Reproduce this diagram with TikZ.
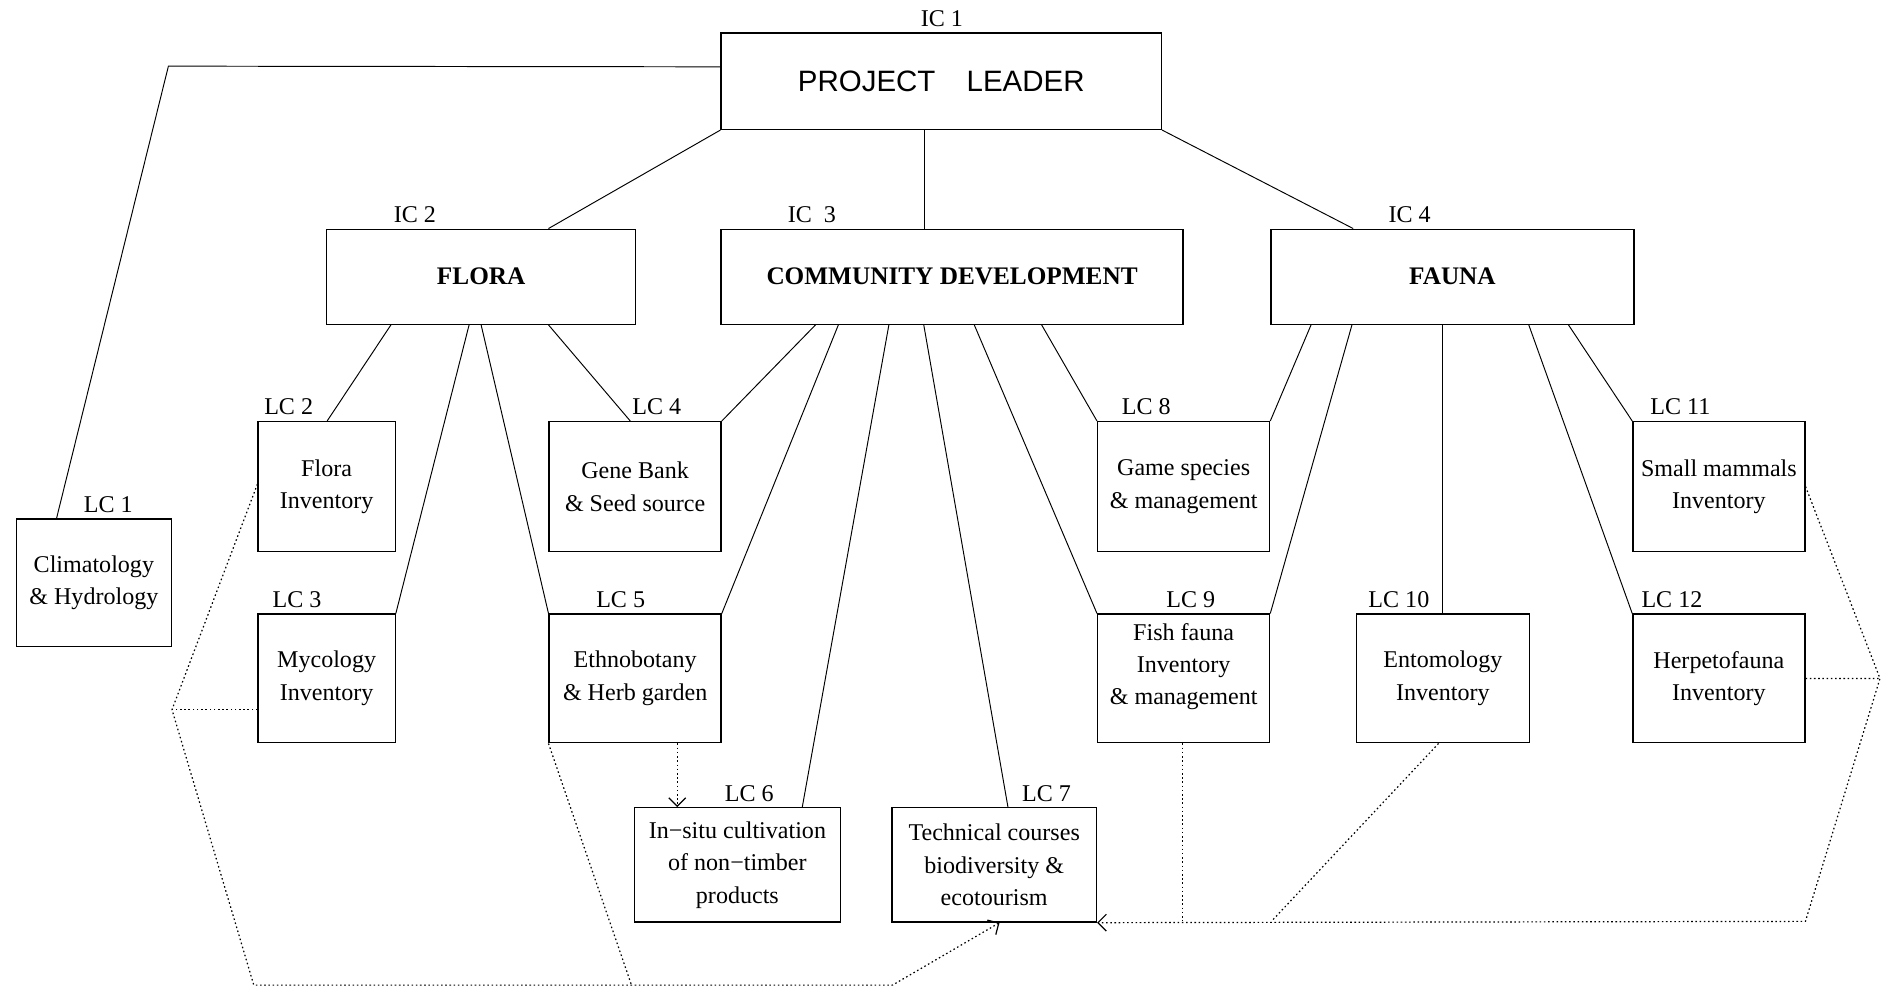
\documentclass[tikz,border=0pt]{standalone}
\usepackage{fontspec}
\setmainfont{Liberation Serif}
\newfontfamily\leadfont{Liberation Sans}
\usetikzlibrary{arrows.meta, positioning, calc}

\begin{document}
\begin{tikzpicture}[x=1pt, y=-1pt,
    box/.style={draw, line width=1.1pt, anchor=north west, align=center, inner sep=0pt, font=\fontsize{20}{27}\selectfont},
    icbox/.style={box, font=\fontsize{21}{26}\selectfont\bfseries},
    tag/.style={anchor=base, inner sep=0pt, font=\fontsize{20}{24}\selectfont},
    link/.style={line width=0.8pt},
    dots/.style={line width=1pt, dash pattern=on 1.3pt off 2.2pt},
    dotarrow/.style={dots, -{Straight Barb[length=7pt, width=14pt, line width=1pt]}}]
    \useasboundingbox (0,0) rectangle (1568,823);

    \node[box, minimum width=366pt, minimum height=80pt, font=\fontsize{24.5}{28}\leadfont] (pl) at (599,27) {PROJECT\hspace{26pt}LEADER};
    \node[icbox, minimum width=257pt, minimum height=79pt] (flora) at (271,190) {FLORA};
    \node[icbox, minimum width=384pt, minimum height=79pt] (comdev) at (599,190) {COMMUNITY DEVELOPMENT};
    \node[icbox, minimum width=302pt, minimum height=79pt] (fauna) at (1056,190) {FAUNA};

    \node[box, minimum width=129pt, minimum height=106pt] (lc1) at (13,431) {Climatology\\\& Hydrology};
    \node[box, minimum width=114pt, minimum height=108pt] (lc2) at (214,350) {Flora\\Inventory};
    \node[box, minimum width=114pt, minimum height=107pt] (lc3) at (214,510) {Mycology\\Inventory};
    \node[box, minimum width=143pt, minimum height=108pt] (lc4) at (456,350) {Gene Bank\\\& Seed source};
    \node[box, minimum width=143pt, minimum height=107pt] (lc5) at (456,510) {Ethnobotany\\\& Herb garden};
    \node[box, minimum width=171pt, minimum height=95pt] (lc6) at (527,671) {In−situ cultivation\\of non−timber\\products};
    \node[box, minimum width=170pt, minimum height=95pt] (lc7) at (741,671) {Technical courses\\biodiversity \&\\ecotourism};
    \node[box, minimum width=143pt, minimum height=108pt] (lc8) at (912,350) {Game species\\\& management};
    \node[box, minimum width=143pt, minimum height=107pt, text depth=24pt] (lc9) at (912,510) {Fish fauna\\Inventory\\\& management};
    \node[box, minimum width=144pt, minimum height=107pt] (lc10) at (1127,510) {Entomology\\Inventory};
    \node[box, minimum width=143pt, minimum height=108pt] (lc11) at (1357,350) {Small mammals\\Inventory};
    \node[box, minimum width=143pt, minimum height=107pt] (lc12) at (1357,510) {Herpetofauna\\Inventory};

    % codes above the boxes
    \node[tag] (tic1) at (783,22) {IC 1};
    \node[tag] (tic2) at (345,185) {IC 2};
    \node[tag] (tic3) at (675,185) {IC\enspace 3};
    \node[tag] (tic4) at (1172,185) {IC 4};
    \node[tag] (tlc1) at (90,426) {LC 1};
    \node[tag] (tlc2) at (240,345) {LC 2};
    \node[tag] (tlc3) at (247,505) {LC 3};
    \node[tag] (tlc4) at (546,345) {LC 4};
    \node[tag] (tlc5) at (516,505) {LC 5};
    \node[tag] (tlc6) at (623,666) {LC 6};
    \node[tag] (tlc7) at (870,666) {LC 7};
    \node[tag] (tlc8) at (953,345) {LC 8};
    \node[tag] (tlc9) at (990,505) {LC 9};
    \node[tag] (tlc10) at (1163,505) {LC 10};
    \node[tag] (tlc11) at (1397,345) {LC 11};
    \node[tag] (tlc12) at (1390,505) {LC 12};

    \coordinate (bend) at (140,55);
    \coordinate (lk) at (143,590);
    \coordinate (lb1) at (211,819);
    \coordinate (lb2) at (742,819);
    \coordinate (lb3) at (525,819);
    \coordinate (rk) at (1563,564);
    \coordinate (rb) at (1501,766);
    \coordinate (fj) at (983,766);
    \coordinate (ej) at (1057,766);

    \draw[link] ([yshift=12pt]pl.west) -- (bend) -- ([xshift=34pt]lc1.north west);
    \draw[link] (pl.south west) -- ([xshift=185pt]flora.north west);
    \draw[link] ([xshift=170pt]pl.south west) -- ([xshift=170pt]comdev.north west);
    \draw[link] (pl.south east) -- ([xshift=69pt]fauna.north west);

    \draw[link] ([xshift=54pt]flora.south west) -- ([xshift=58pt]lc2.north west);
    \draw[link] ([xshift=119pt]flora.south west) -- (lc3.north east);
    \draw[link] ([xshift=129pt]flora.south west) -- (lc5.north west);
    \draw[link] ([xshift=185pt]flora.south west) -- ([xshift=68pt]lc4.north west);

    \draw[link] ([xshift=79pt]comdev.south west) -- (lc4.north east);
    \draw[link] ([xshift=98pt]comdev.south west) -- (lc5.north east);
    \draw[link] ([xshift=140pt]comdev.south west) -- ([xshift=140pt]lc6.north west);
    \draw[link] ([xshift=169pt]comdev.south west) -- ([xshift=97pt]lc7.north west);
    \draw[link] ([xshift=211pt]comdev.south west) -- (lc9.north west);
    \draw[link] ([xshift=267pt]comdev.south west) -- (lc8.north west);

    \draw[link] ([xshift=34pt]fauna.south west) -- (lc8.north east);
    \draw[link] ([xshift=68pt]fauna.south west) -- (lc9.north east);
    \draw[link] ([xshift=143pt]fauna.south west) -- ([xshift=72pt]lc10.north west);
    \draw[link] ([xshift=215pt]fauna.south west) -- (lc12.north west);
    \draw[link] ([xshift=248pt]fauna.south west) -- (lc11.north west);

    % dotted feedback to the courses
    \draw[dotarrow] ([yshift=2pt]lc2.west) -- (lk) -- (lb1) -- (lb2) -- ([xshift=90pt]lc7.south west);
    \draw[dots] (lk -| lc3.west) -- (lk);
    \draw[dots] (lc5.south west) -- (lb3);
    \draw[dotarrow] ([xshift=107pt]lc5.south west) -- ([xshift=36pt]lc6.north west);
    \draw[dotarrow] (lc11.east) -- (rk) -- (rb) -- (lc7.south east);
    \draw[dots] (lc12.east) -- (rk);
    \draw[dots] ([xshift=71pt]lc9.south west) -- (fj);
    \draw[dots] ([xshift=69pt]lc10.south west) -- (ej);
\end{tikzpicture}
\end{document}
